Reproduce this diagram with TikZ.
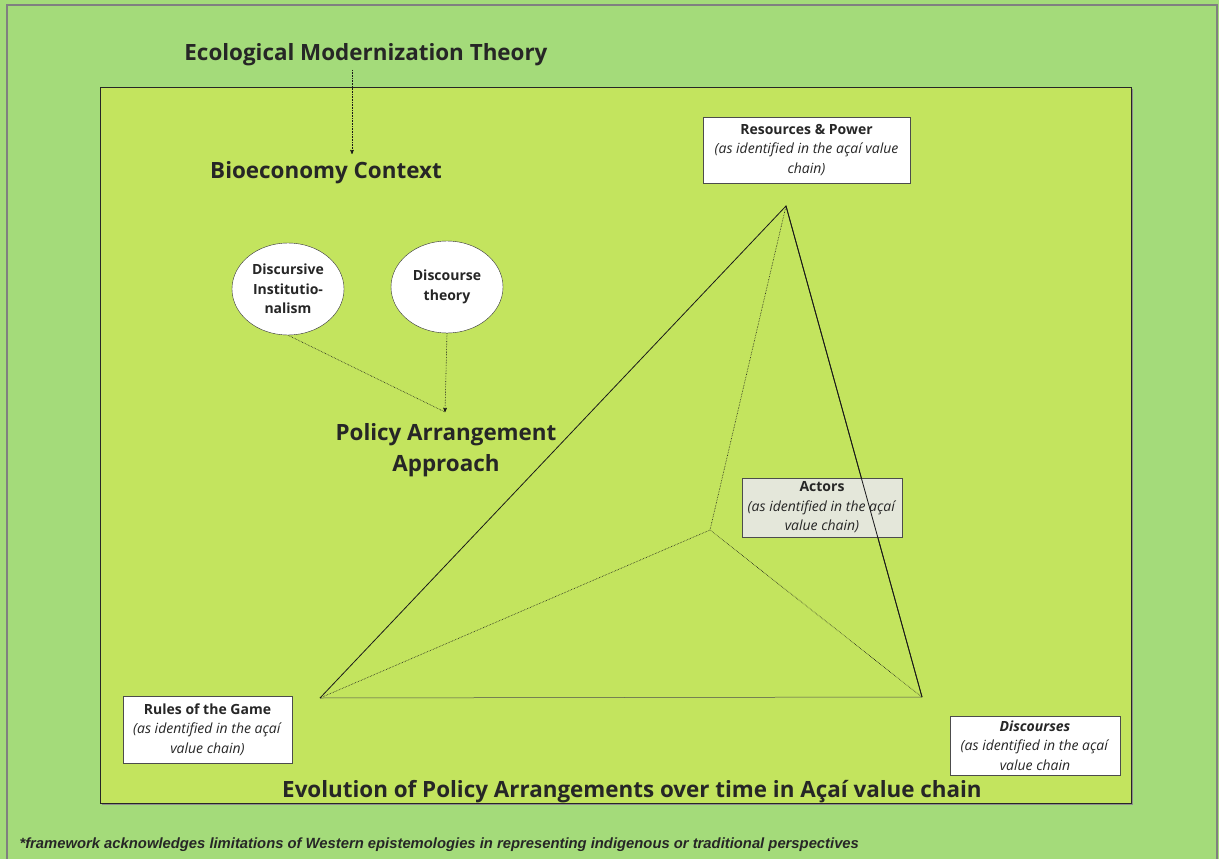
\documentclass[tikz,border=0pt]{standalone}
\usepackage{fontspec}
\setmainfont{Open Sans}
\newfontfamily\notefont{Liberation Sans}
\usepackage{tikz}
\usetikzlibrary{arrows}
\usetikzlibrary{shapes.geometric}
\definecolor{outergreen}{RGB}{164,219,122}
\definecolor{innergreen}{RGB}{195,228,94}
\definecolor{actorgray}{RGB}{232,232,232}
\tikzset{
  headline/.style={font=\bfseries\fontsize{22.4}{31}\selectfont, text=black!85, align=center, yshift=-3pt},
  bubble/.style={ellipse, draw=black!80, fill=white, minimum width=112pt, minimum height=92pt,
    align=center, font=\bfseries\fontsize{14}{19.5}\selectfont, text=black!85, inner sep=0pt},
  infobox/.style={draw=black!70, align=center, inner sep=0pt, text=black!85,
    font=\fontsize{14}{19.5}\selectfont},
  linkdot/.style={densely dotted, black!90, line width=0.6pt},
}
\begin{document}
\begin{tikzpicture}[x=1pt, y=-1pt]
\useasboundingbox (0,0) rectangle (1219,859);
% backgrounds
\fill[outergreen] (0,0) rectangle (1219,859);
\draw[black!50, line width=1.2pt] (7,862) -- (7,5) -- (1217,5) -- (1217,862);
\fill[black!45] (102,89) rectangle (1133,805);
\filldraw[fill=innergreen, draw=black!85, line width=0.8pt] (100,87) rectangle (1131,803);

% theory chain
\node[headline] (emt) at (366,52) {Ecological Modernization Theory};
\node[headline] (bio) at (326,170) {Bioeconomy Context};
\draw[linkdot, ->, >=stealth'] (352,70) -- (352,154);

\node[bubble] (di) at (288,289) {Discursive\\Institutio-\\nalism};
\node[bubble] (dt) at (447,287) {Discourse\\theory};
\node[headline] (paa) at (446,447) {Policy Arrangement\\Approach};
\coordinate (meet) at (445,412);
\draw[linkdot] (di.south) -- (meet);
\draw[linkdot, ->, >=stealth'] (dt.south) -- (meet);

% pyramid
\coordinate (apex) at (786,206);
\coordinate (pl) at (320,698);
\coordinate (pr) at (922,697);
\coordinate (pin) at (710,530);
\draw[black!70, line width=0.5pt] (pl) -- (pr);
\draw[black!90, line width=0.8pt] (pl) -- (apex) -- (pr);
\draw[linkdot] (apex) -- (pin);
\draw[linkdot] (pl) -- (pin) -- (pr);

% dimension boxes
\node[infobox, fill=white, minimum width=207pt, minimum height=66pt] (res) at (806.5,150)
  {\textbf{Resources \& Power}\\\textit{(as identified in the açaí value}\\\textit{chain)}};
\node[infobox, fill=actorgray, fill opacity=0.9, text opacity=1, minimum width=160pt, minimum height=59pt] (act) at (822,507.5)
  {\textbf{Actors}\\\textit{(as identified in the açaí}\\\textit{value chain)}};
\draw[black!90, line width=0.8pt] (apex) -- (pr);
\node[infobox, fill=white, minimum width=169pt, minimum height=67pt] (rules) at (207.5,729.5)
  {\textbf{Rules of the Game}\\\textit{(as identified in the açaí}\\\textit{value chain)}};
\node[infobox, fill=white, minimum width=170pt, minimum height=59pt] (disc) at (1035,745.5)
  {\textbf{\textit{Discourses}}\\\textit{(as identified in the açaí}\\\textit{value chain}};

% captions
\node[headline] (evo) at (632,789) {Evolution of Policy Arrangements over time in Açaí value chain};
\node[anchor=west, font=\notefont\bfseries\itshape\fontsize{14.8}{17}\selectfont, text=black!85] (note) at (16,845)
  {*framework acknowledges limitations of Western epistemologies in representing indigenous or traditional perspectives};
\end{tikzpicture}
\end{document}
